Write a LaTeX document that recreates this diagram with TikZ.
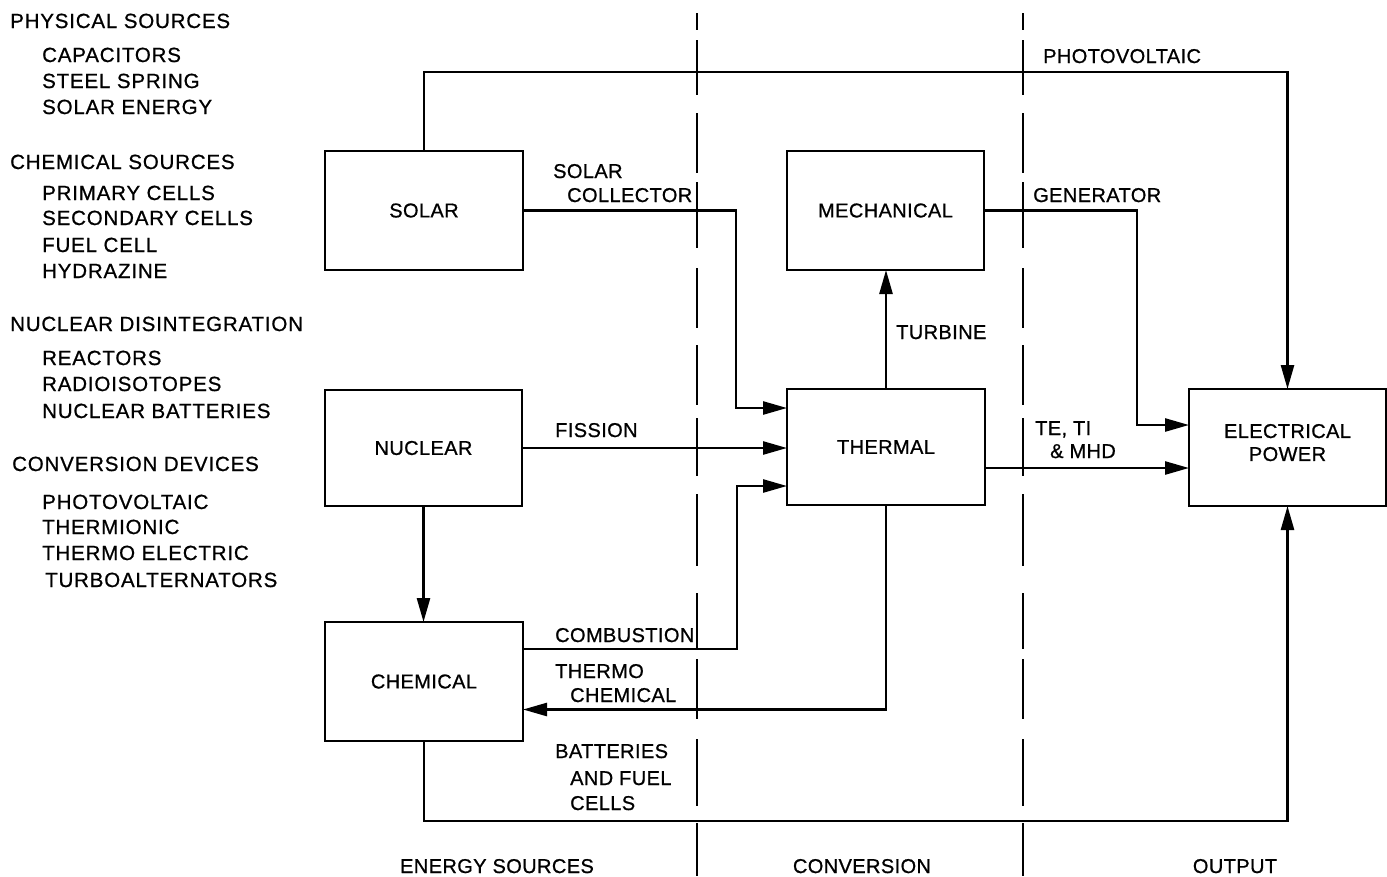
\documentclass[tikz,border=0pt]{standalone}
\usepackage{fontspec}
\setmainfont{Liberation Sans}
\newfontfamily\labfont{Liberation Sans}[LetterSpace=2,FakeBold=0.8]
\newfontfamily\listfont{Liberation Sans}[LetterSpace=4,FakeBold=0.8]
\usetikzlibrary{arrows.meta,calc}
\tikzset{
  box/.style={draw, line width=2.2pt, minimum width=198pt, minimum height=119pt, inner sep=0pt, outer sep=0pt, font=\labfont\fontsize{20}{24}\selectfont, align=center},
  arr/.style={line width=2.6pt, -{Triangle[length=24pt,width=13pt]}},
  sep/.style={line width=2.6pt},
  lab/.style={anchor=base west, inner sep=0pt, font=\labfont\fontsize{20}{24}\selectfont},
  lst/.style={anchor=base west, inner sep=0pt, font=\listfont\fontsize{20.5}{24}\selectfont},
  foot/.style={anchor=base, inner sep=0pt, font=\labfont\fontsize{20}{24}\selectfont}
}
\begin{document}
\begin{tikzpicture}[x=1pt,y=-1pt]
\useasboundingbox (0,0) rectangle (1387,876);
% separators
\foreach \xx in {697,1023}{
  \foreach \a/\b in {13/30,40/95,113/173,182/248,268/328,345/405,418/476,494/566,593/649,659/719,739/806,823/876}{
    \draw[sep] (\xx,\a) -- (\xx,\b);
  }
}
% left list
\node[lst] (l1) at (10,28) {PHYSICAL SOURCES};
\node[lst] (l2) at (42,62) {CAPACITORS};
\node[lst] (l3) at (42,88) {STEEL SPRING};
\node[lst] (l4) at (42,114) {SOLAR ENERGY};
\node[lst] (l5) at (10,169) {CHEMICAL SOURCES};
\node[lst] (l6) at (42,200) {PRIMARY CELLS};
\node[lst] (l7) at (42,225) {SECONDARY CELLS};
\node[lst] (l8) at (42,252) {FUEL CELL};
\node[lst] (l9) at (42,278) {HYDRAZINE};
\node[lst] (l10) at (10,331) {NUCLEAR DISINTEGRATION};
\node[lst] (l11) at (42,365) {REACTORS};
\node[lst] (l12) at (42,391) {RADIOISOTOPES};
\node[lst] (l13) at (42,418) {NUCLEAR BATTERIES};
\node[lst] (l14) at (12,471) {CONVERSION DEVICES};
\node[lst] (l15) at (42,509) {PHOTOVOLTAIC};
\node[lst] (l16) at (42,534) {THERMIONIC};
\node[lst] (l17) at (42,560) {THERMO ELECTRIC};
\node[lst] (l18) at (45,587) {TURBOALTERNATORS};
% boxes
\node[box] (solar) at (424,210.5) {SOLAR};
\node[box, minimum width=197pt, minimum height=116pt] (nuclear) at (423.5,448) {NUCLEAR};
\node[box] (chemical) at (424,681.5) {CHEMICAL};
\node[box, minimum width=197pt] (mech) at (885.5,210.5) {MECHANICAL};
\node[box, minimum height=116pt] (thermal) at (886,447) {THERMAL};
\node[box, minimum width=197pt, minimum height=117pt] (elec) at (1287.5,447.5) {ELECTRICAL\\[-1pt]POWER\\[-14pt]\mbox{}};
% helper coordinates
\coordinate (pvy) at (0,72);
\coordinate (scx) at (736,0);
\coordinate (cbx) at (737,0);
\coordinate (gx) at (1137,0);
\coordinate (bty) at (0,821);
\coordinate (tw1) at ([yshift=39pt]thermal.west);
\coordinate (tw3) at ([yshift=-39pt]thermal.west);
\coordinate (ce1) at ([yshift=32.5pt]chemical.east);
\coordinate (ce2) at ([yshift=-28pt]chemical.east);
\coordinate (ew1) at ([yshift=22.5pt]elec.west);
\coordinate (ew2) at ([yshift=-20.5pt]elec.west);
% connectors
\draw[arr] (solar.north) |- (pvy -| elec.north) -- (elec.north);
\draw[arr] (solar.east) -- (solar.east -| scx) |- (tw1);
\draw[arr] (nuclear.east) -- (nuclear.east -| thermal.west);
\draw[arr] (ce1) -| (tw3 -| cbx) -- (tw3);
\draw[arr] (thermal.south) |- (ce2);
\draw[arr] (nuclear.south) -- (nuclear.south |- chemical.north);
\draw[arr] (thermal.north) -- (thermal.north |- mech.south);
\draw[arr] (mech.east) -| (gx |- ew1) -- (ew1);
\draw[arr] (thermal.east |- ew2) -- (ew2);
\draw[arr] (chemical.south) |- (bty -| elec.south) -- (elec.south);
% connector labels
\node[lab] (tpv) at (1043,63) {PHOTOVOLTAIC};
\node[lab] (tsc1) at (553,178) {SOLAR};
\node[lab] (tsc2) at (567,202) {COLLECTOR};
\node[lab] (tgen) at (1033,202) {GENERATOR};
\node[lab] (tte1) at (1035,435) {TE, TI};
\node[lab] (tte2) at (1050,458) {\&~MHD};
\node[lab] (tfis) at (555,437) {FISSION};
\node[lab] (tcomb) at (555,642) {COMBUSTION};
\node[lab] (tthc1) at (555,678) {THERMO};
\node[lab] (tthc2) at (570,702) {CHEMICAL};
\node[lab] (tbat1) at (555,758) {BATTERIES};
\node[lab] (tbat2) at (570,785) {AND FUEL};
\node[lab] (tbat3) at (570,810) {CELLS};
\node[lab] (tturb) at (896,339) {TURBINE};
% footer
\node[foot] (f1) at (497,873) {ENERGY SOURCES};
\node[foot] (f2) at (862,873) {CONVERSION};
\node[foot] (f3) at (1235,873) {OUTPUT};
\end{tikzpicture}
\end{document}
